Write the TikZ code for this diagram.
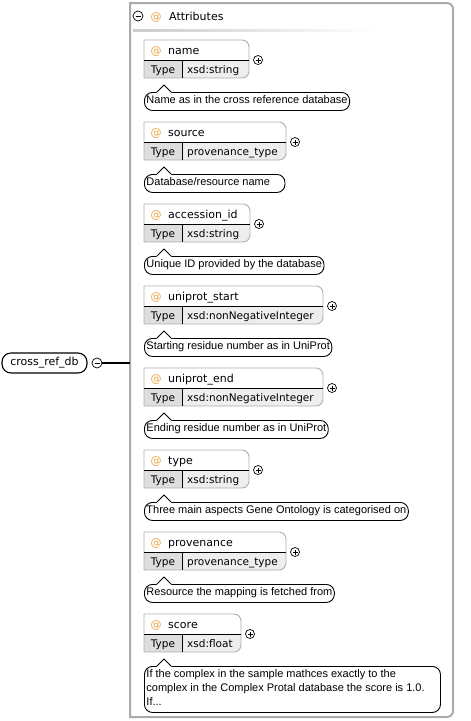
\documentclass[tikz,border=0pt]{standalone}
\usepackage{fontspec}
\setmainfont{DejaVu Sans}
\newfontfamily\docfont{Liberation Sans}

\definecolor{atorange}{RGB}{238,160,64}
\definecolor{framegray}{RGB}{170,170,170}
\definecolor{boxgray}{RGB}{175,175,175}
\definecolor{typegray}{RGB}{222,222,222}
\definecolor{valgray}{RGB}{238,238,238}

\tikzset{
  attat/.style={anchor=base, inner sep=0pt, text=atorange, font=\fontsize{11}{13}\selectfont},
  attname/.style={anchor=base west, inner sep=0pt, font=\fontsize{11}{13}\selectfont},
  typecell/.style={anchor=base, inner sep=0pt, font=\fontsize{10.5}{12}\selectfont},
  docnote/.style={draw, line width=0.9pt, rounded corners=8pt, anchor=north west,
    inner xsep=2pt, inner ysep=0pt, align=left, font=\docfont\fontsize{11}{14}\selectfont},
  boxline/.style={draw=boxgray, line width=0.9pt},
  plusbtn/.style={circle, draw, line width=0.7pt, minimum size=9pt, inner sep=0pt,
    path picture={\draw[line width=0.7pt]
      ([xshift=-2.5pt]path picture bounding box.center) -- ([xshift=2.5pt]path picture bounding box.center)
      ([yshift=-2.5pt]path picture bounding box.center) -- ([yshift=2.5pt]path picture bounding box.center);}},
  minusbtn/.style={circle, draw, line width=0.7pt, minimum size=10pt, inner sep=0pt,
    path picture={\draw[line width=0.7pt]
      ([xshift=-2.5pt]path picture bounding box.center) -- ([xshift=2.5pt]path picture bounding box.center);}},
}

\begin{document}
\begin{tikzpicture}[x=1pt, y=1pt]
\useasboundingbox (0,0) rectangle (471,-721);
% attributes frame
\draw[framegray, line width=2pt] (130,-3) -- (447,-3) arc[start angle=90, end angle=0, radius=6pt]
  -- (453,-711) arc[start angle=0, end angle=-90, radius=6pt] -- (130,-717) -- cycle;
\shade[left color=gray!40, right color=white] (133,-29) rectangle (378,-31);
\node[minusbtn] (attbtn) at (138,-16) {};
\node[attat] (attat) at (156,-20) {@};
\node[attname] (attlabel) at (169,-20) {Attributes};
\coordinate (attrs) at (130,-363);
% root element
\node[draw, line width=1.1pt, rounded corners=9pt, minimum width=85pt, minimum height=20pt,
  inner sep=0pt, font=\fontsize{11}{13}\selectfont] (root) at (44.5,-363) {cross\_ref\_db};
\node[minusbtn] (rootbtn) at (97,-363) {};
\draw[line width=1.8pt] (rootbtn) -- (attrs);
% attributes
\foreach \key/\T/\R/\typ/\gap/\doc [count=\i] in {
  name/40/249/xsd:string/0/{Name as in the cross reference database},
  source/122/286/provenance\_type/13/{Database/resource name},
  accession\_id/204/250/xsd:string/0/{Unique ID provided by the database},
  uniprot\_start/286/323/xsd:nonNegativeInteger/0/{Starting residue number as in UniProt},
  uniprot\_end/368/323/xsd:nonNegativeInteger/0/{Ending residue number as in UniProt},
  type/450/249/xsd:string/0/{Three main aspects Gene Ontology is categorised on},
  provenance/532/286/provenance\_type/0/{Resource the mapping is fetched from},
  score/614/241/xsd:float/0/{\makebox[292pt][l]{If the complex in the sample mathces exactly to the}\\complex in the Complex Protal database the score is 1.0.\\If...}} {
  \fill[typegray] (144,{-\T-20}) rectangle (182,{-\T-38});
  \fill[valgray] (182,{-\T-20}) -- (\R,{-\T-20}) -- (\R,{-\T-31})
    arc[start angle=0, end angle=-90, radius=7pt] -- (182,{-\T-38}) -- cycle;
  \draw[boxline] (144,{-\T}) -- ({\R-7},{-\T}) arc[start angle=90, end angle=0, radius=7pt]
    -- (\R,{-\T-31}) arc[start angle=0, end angle=-90, radius=7pt] -- (144,{-\T-38}) -- cycle;
  \draw[line width=0.9pt] (144,{-\T-20}) -- (\R,{-\T-20}) (182,{-\T-20}) -- (182,{-\T-38});
  \node[attat] (at\i) at (156,{-\T-14.5}) {@};
  \node[attname] (nm\i) at (168,{-\T-14.5}) {\key};
  \node[typecell] (ty\i) at (163,{-\T-33}) {Type};
  \node[typecell, anchor=base west] (va\i) at (187,{-\T-33}) {\typ};
  \node[plusbtn] (pl\i) at ({\R+9},{-\T-20}) {};
  % documentation bubble
  \node[docnote] (dc\i) at (144,{-\T-52}) {\rule{0pt}{11pt}\doc\hspace*{\gap pt}\rule[-7pt]{0pt}{7pt}};
  \fill[white] (156.5,{-\T-52.8}) -- (164,{-\T-45}) -- (171.5,{-\T-52.8}) -- cycle;
  \draw[line width=0.9pt] (157,{-\T-52}) -- (164,{-\T-45}) -- (171,{-\T-52});
}
\end{tikzpicture}
\end{document}
